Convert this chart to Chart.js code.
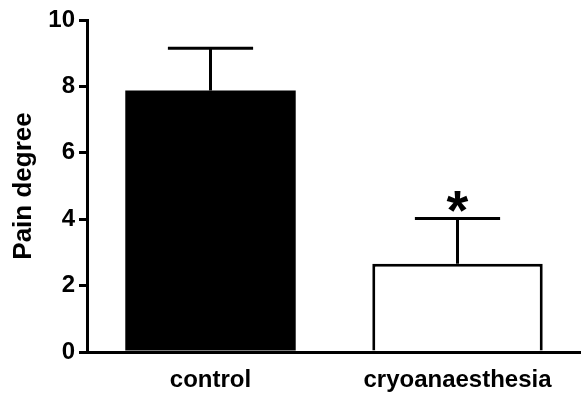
<!DOCTYPE html>
<html>
<head>
<meta charset="utf-8">
<script src="https://cdn.jsdelivr.net/npm/chart.js@4/dist/chart.umd.min.js"></script>
<style>
  html, body { margin: 0; padding: 0; background: #fff; }
  #wrap { width: 581px; height: 396px; }
</style>
</head>
<body>
<div id="wrap"><canvas id="barChart"></canvas></div>
<script>
var categories = ['control', 'cryoanaesthesia'];
var means = [7.88, 2.66];
var sem = [1.27, 1.36];
var fills = ['#000000', '#ffffff'];
var borders = [0, 3];
var marks = ['', '*'];
var yTicks = [0, 2, 4, 6, 8, 10];

// upper error bars + significance star
var errorBars = {
  id: 'errorBars',
  afterDatasetsDraw: function (chart) {
    var ctx = chart.ctx;
    var meta = chart.getDatasetMeta(0);
    var y = chart.scales.y;
    ctx.save();
    ctx.strokeStyle = '#000';
    ctx.lineWidth = 3;
    meta.data.forEach(function (bar, i) {
      var top = y.getPixelForValue(means[i] + sem[i]);
      var half = bar.width / 4;
      ctx.beginPath();
      ctx.moveTo(bar.x, bar.y);
      ctx.lineTo(bar.x, top);
      ctx.moveTo(bar.x - half, top);
      ctx.lineTo(bar.x + half, top);
      ctx.stroke();
      if (marks[i]) {
        ctx.fillStyle = '#000';
        ctx.font = 'bold 56px "Liberation Sans", Arial, sans-serif';
        ctx.textAlign = 'center';
        ctx.textBaseline = 'alphabetic';
        var m = ctx.measureText(marks[i]);
        ctx.fillText(marks[i], bar.x, top - 7 - m.actualBoundingBoxDescent);
      }
    });
    ctx.restore();
  }
};

var tickFont = { family: '"Liberation Sans", Arial, sans-serif', size: 24, weight: 'bold' };
var titleFont = { family: '"Liberation Sans", Arial, sans-serif', size: 26, weight: 'bold' };

new Chart(document.getElementById('barChart').getContext('2d'), {
  type: 'bar',
  data: {
    labels: categories,
    datasets: [{
      data: means,
      backgroundColor: fills,
      borderColor: '#000',
      borderWidth: borders,
      borderSkipped: 'bottom',
      barPercentage: 0.69,
      categoryPercentage: 1.0
    }]
  },
  options: {
    responsive: true,
    maintainAspectRatio: false,
    animation: false,
    layout: { padding: { top: 20, right: 0, bottom: 0, left: 0 } },
    plugins: { legend: { display: false }, tooltip: { enabled: false } },
    scales: {
      x: {
        grid: { display: false, drawTicks: false },
        border: { display: true, color: '#000', width: 3 },
        ticks: { color: '#000', font: tickFont, padding: 14 },
        afterFit: function (s) { s.height = 44; }
      },
      y: {
        min: 0,
        max: 10,
        afterBuildTicks: function (s) {
          s.ticks = yTicks.map(function (v) { return { value: v }; });
        },
        grid: { drawOnChartArea: false, drawTicks: true, tickLength: 8, color: '#000', lineWidth: 3 },
        border: { display: true, color: '#000', width: 3 },
        ticks: { color: '#000', font: tickFont, padding: 4 },
        title: { display: true, text: 'Pain degree', color: '#000', font: titleFont, padding: { top: 8, bottom: 0 } },
        afterFit: function (s) { s.width = 87; }
      }
    }
  },
  plugins: [errorBars]
});
</script>
</body>
</html>
